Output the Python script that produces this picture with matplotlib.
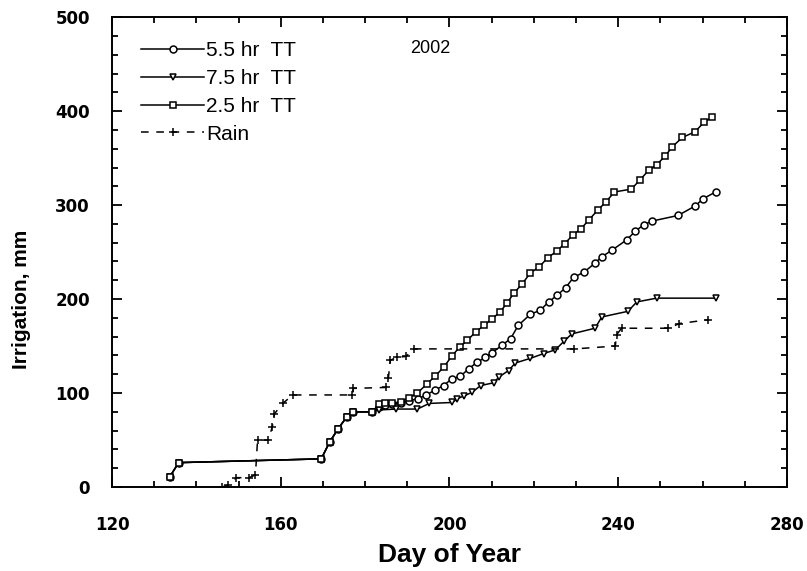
import matplotlib
matplotlib.use("Agg")
import matplotlib.pyplot as plt
from matplotlib.ticker import MultipleLocator

# cumulative irrigation (mm) by day of year, 2002
day_55 = [133.7, 135.8, 169.6, 171.6, 173.6, 175.7, 177.2, 181.7, 183.2, 184.8, 186.3,
          188.5, 190.4, 192.5, 194.5, 196.5, 198.6, 200.5, 202.6, 204.6, 206.6, 208.5,
          210.1, 212.5, 214.5, 216.3, 219.2, 221.5, 223.5, 225.5, 227.5, 229.4, 232.0,
          234.4, 236.1, 238.5, 242.0, 244.0, 246.0, 248.0, 254.2, 258.2, 260.2, 263.1]
irr_55 = [11, 26, 30, 48, 62, 75, 80, 80, 85, 87, 88,
          89, 92, 94, 98, 103, 108, 115, 118, 126, 133, 138,
          143, 151, 158, 172, 184, 188, 197, 204, 212, 223, 229,
          238, 245, 252, 263, 272, 279, 283, 289, 299, 307, 314]

day_75 = [133.7, 135.8, 169.6, 171.6, 173.6, 175.7, 177.2, 181.7, 183.2, 187.3, 192.4,
          195.2, 200.7, 201.8, 203.5, 205.4, 207.4, 210.5, 211.7, 214.0, 215.6, 219.2,
          222.3, 225.1, 227.1, 229.0, 234.5, 236.1, 242.3, 244.4, 249.1, 263.1]
irr_75 = [11, 26, 30, 48, 62, 75, 80, 80, 82, 83, 83,
          89, 90, 94, 97, 101, 108, 111, 117, 124, 132, 137,
          142, 146, 155, 163, 169, 181, 187, 197, 201, 201]

day_25 = [133.7, 135.8, 169.6, 171.6, 173.6, 175.7, 177.2, 181.7, 183.2, 184.8, 186.3,
          188.5, 190.4, 192.4, 194.7, 196.6, 198.7, 200.5, 202.4, 204.2, 206.2, 208.2,
          210.1, 211.9, 213.7, 215.2, 217.2, 219.2, 221.2, 223.3, 225.4, 227.3, 229.2,
          231.2, 233.0, 235.2, 237.0, 239.1, 243.1, 245.2, 247.2, 249.1, 251.1, 252.8,
          255.2, 258.2, 260.3, 262.3]
irr_25 = [11, 26, 30, 48, 62, 75, 80, 80, 88, 89, 89,
          91, 95, 100, 110, 118, 128, 139, 149, 156, 165, 172,
          179, 186, 196, 206, 216, 228, 234, 244, 251, 259, 268,
          275, 284, 295, 303, 314, 317, 327, 337, 343, 352, 362,
          372, 378, 388, 394]

day_rain = [146.0, 147.5, 149.5, 152.5, 154.0, 154.5, 157.0, 158.0, 158.5, 160.5, 162.8,
            177.0, 177.2, 185.0, 185.5, 186.0, 187.5, 189.7, 191.6, 229.6, 239.3, 239.6,
            240.8, 251.9, 254.5, 261.3]
rain = [0, 2, 10, 10, 13, 50, 50, 64, 78, 89, 98,
        98, 105, 106, 116, 135, 138, 139, 147, 147, 150, 162,
        169, 169, 174, 178]

plt.rcParams['font.family'] = ['Liberation Sans', 'DejaVu Sans']

fig = plt.figure(figsize=(8.07, 5.71), dpi=100)
ax = fig.add_axes([0.1388, 0.147, 0.8364, 0.823])

mk = dict(color='black', lw=1.1, ms=5, mfc='white', mec='black', mew=1.1)
ax.plot(day_55, irr_55, marker='o', label='5.5 hr  TT', **mk)
ax.plot(day_75, irr_75, marker='v', label='7.5 hr  TT', **mk)
ax.plot(day_25, irr_25, marker='s', label='2.5 hr  TT', **mk)
ax.plot(day_rain, rain, color='black', lw=1.1, dashes=[5, 5], marker='+', ms=6,
        mew=1.1, label='Rain')

ax.set_xlim(120, 280)
ax.set_ylim(0, 500)
ax.xaxis.set_major_locator(MultipleLocator(40))
ax.xaxis.set_minor_locator(MultipleLocator(10))
ax.yaxis.set_major_locator(MultipleLocator(100))
ax.yaxis.set_minor_locator(MultipleLocator(20))
ax.tick_params(which='both', direction='in', top=True, right=True, width=1.3)
ax.tick_params(which='major', length=7)
ax.tick_params(which='minor', length=4.5)
ax.tick_params(axis='y', pad=16)
ax.tick_params(axis='x', pad=21)
for lab in ax.get_xticklabels() + ax.get_yticklabels():
    lab.set_fontfamily('DejaVu Sans')
    lab.set_fontweight('bold')
    lab.set_fontsize(12)
for sp in ax.spines.values():
    sp.set_linewidth(1.4)

ax.set_xlabel('Day of Year', fontsize=19, fontweight='bold', labelpad=6)
ax.set_ylabel('Irrigation, mm', fontsize=15, fontweight='bold')
ax.yaxis.set_label_coords(-0.12, 0.40)

ax.text(195.5, 467, '2002', fontsize=13, ha='center', va='center')

ax.legend(loc='upper left', bbox_to_anchor=(0.025, 0.975), frameon=False,
          fontsize=15, handlelength=3.0, handletextpad=0.1, labelspacing=0.42,
          numpoints=1, borderaxespad=0.2)

fig.savefig('out.png', dpi=100)
